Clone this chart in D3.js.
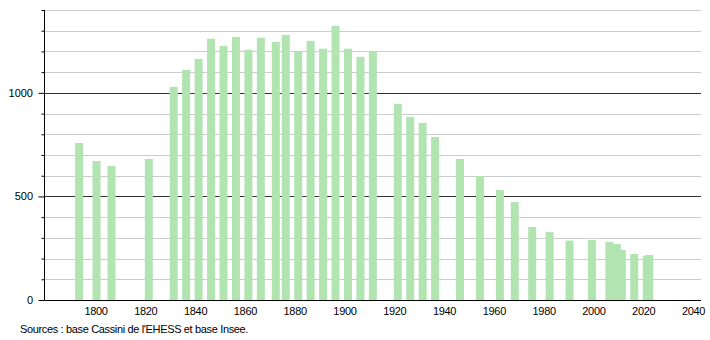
<!DOCTYPE html>
<html>
<head>
<meta charset="utf-8">
<script src="https://cdn.jsdelivr.net/npm/d3@7"></script>
<style>
  body { margin: 0; background: #fff; }
  text { font-family: "Liberation Sans", Arial, sans-serif; }
</style>
</head>
<body>
<div id="chart"></div>
<script>
// census years and population
var years = [1793, 1800, 1806, 1821, 1831, 1836, 1841, 1846, 1851, 1856,
  1861, 1866, 1872, 1876, 1881, 1886, 1891, 1896, 1901, 1906,
  1911, 1921, 1926, 1931, 1936, 1946, 1954, 1962, 1968, 1975,
  1982, 1990, 1999, 2006, 2009, 2011, 2016, 2021, 2022];
var population = [758, 671, 647, 681, 1029, 1111, 1164, 1261, 1227, 1270,
  1208, 1266, 1246, 1280, 1198, 1251, 1213, 1324, 1213, 1174,
  1198, 947, 884, 855, 787, 681, 599, 531, 473, 353,
  328, 287, 290, 280, 270, 242, 222, 213, 217];
var xTicks = [1800, 1820, 1840, 1860, 1880, 1900, 1920, 1940, 1960, 1980, 2000, 2020, 2040];
var yLabels = [0, 500, 1000];

var width = 710, height = 340;
var plot = {left: 44.5, right: 701, top: 10, bottom: 300};

var svg = d3.select("#chart").append("svg")
    .attr("width", width)
    .attr("height", height);

var x = d3.scaleLinear().domain([1779.3, 2043]).range([plot.left, plot.right]);
var y = d3.scaleLinear().domain([0, 1400]).range([plot.bottom, plot.top]);

// grid lines every 100
var grid = d3.range(100, 1401, 100);
svg.append("g").selectAll("line")
  .data(grid)
  .enter().append("line")
    .attr("x1", plot.left)
    .attr("x2", plot.right)
    .attr("y1", function(d) { return Math.round(y(d)) + 0.5; })
    .attr("y2", function(d) { return Math.round(y(d)) + 0.5; })
    .style("stroke", function(d) { return d % 500 == 0 ? "#333" : "#ccc"; })
    .style("stroke-width", 1);

// bars
svg.append("g").selectAll("rect")
  .data(years)
  .enter().append("rect")
    .attr("x", function(d) { return x(d) - 3.5; })
    .attr("width", 8)
    .attr("y", function(d, i) { return y(population[i]); })
    .attr("height", function(d, i) { return plot.bottom - y(population[i]); })
    .style("fill", "#b2e4b2");

// y axis with ticks
var yAxis = d3.axisLeft(y)
    .tickValues(d3.range(0, 1401, 100))
    .tickSize(4)
    .tickFormat("");
svg.append("g")
    .attr("transform", "translate(" + plot.left + ",0)")
    .call(yAxis)
    .call(function(g) {
      g.select(".domain").attr("d", "M0," + plot.top + "V" + plot.bottom).style("stroke", "#000");
      g.selectAll(".tick line").style("stroke", "#000")
        .attr("x2", function(d) { return d % 500 == 0 ? -6 : -3; });
    });

svg.append("g").selectAll("text")
  .data(yLabels)
  .enter().append("text")
    .attr("x", 33)
    .attr("y", function(d) { return y(d) + 4; })
    .attr("text-anchor", "end")
    .style("font-size", "11px")
    .text(function(d) { return d; });

// x axis line
svg.append("line")
    .attr("x1", plot.left).attr("x2", plot.right)
    .attr("y1", plot.bottom + 0.5).attr("y2", plot.bottom + 0.5)
    .style("stroke", "#000");

svg.append("g").selectAll("text")
  .data(xTicks)
  .enter().append("text")
    .attr("x", function(d) { return x(d); })
    .attr("y", 315)
    .attr("text-anchor", "middle")
    .style("font-size", "11px")
    .style("letter-spacing", "-0.3px")
    .text(function(d) { return d; });

svg.append("text")
    .attr("x", 20)
    .attr("y", 333)
    .style("font-size", "11px")
    .style("letter-spacing", "-0.35px")
    .text("Sources : base Cassini de l'EHESS et base Insee.");
</script>
</body>
</html>
